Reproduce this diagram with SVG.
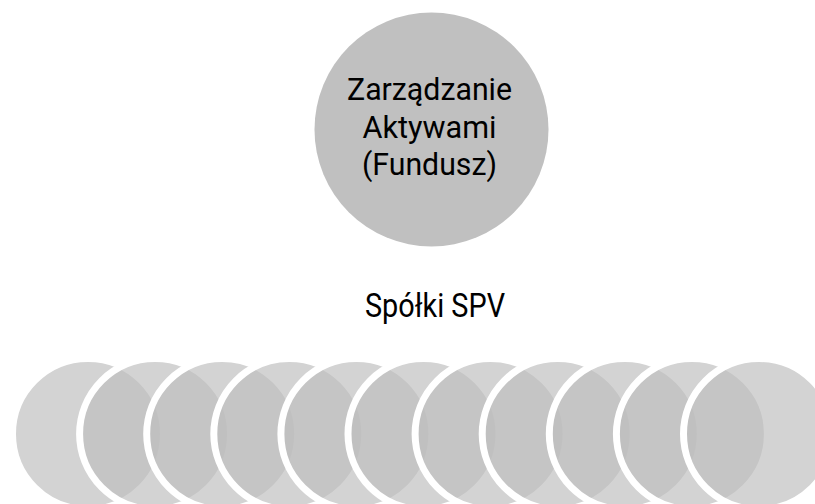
<svg xmlns="http://www.w3.org/2000/svg" width="815" height="504" viewBox="0 0 815 504">
  <style>
    .big { fill: #c0c0c0; }
    .spv { fill: #bebebe; fill-opacity: 0.68; stroke: #ffffff; stroke-width: 7; }
    .t { font-family: Roboto, "DejaVu Sans", sans-serif; font-weight: 400; fill: #000000; text-anchor: middle; }
  </style>
  <rect x="0" y="0" width="815" height="504" fill="#ffffff"/>
  <g id="connectors"/>
  <g id="node-fundusz">
    <circle class="big" cx="431.5" cy="129.5" r="117"/>
    <text class="t" font-size="32" x="429.5" y="100" textLength="165" lengthAdjust="spacingAndGlyphs">Zarządzanie</text>
    <text class="t" font-size="32" x="429.5" y="138" textLength="134" lengthAdjust="spacingAndGlyphs">Aktywami</text>
    <text class="t" font-size="32" x="429.5" y="175" textLength="135" lengthAdjust="spacingAndGlyphs">(Fundusz)</text>
  </g>
  <g id="label-spv">
    <text class="t" font-size="33" x="435" y="317" textLength="140" lengthAdjust="spacingAndGlyphs">Spółki SPV</text>
  </g>
  <g id="node-spv-1"><circle class="spv" cx="88" cy="434" r="75.5"/></g>
  <g id="node-spv-2"><circle class="spv" cx="155.1" cy="434" r="75.5"/></g>
  <g id="node-spv-3"><circle class="spv" cx="222.2" cy="434" r="75.5"/></g>
  <g id="node-spv-4"><circle class="spv" cx="289.3" cy="434" r="75.5"/></g>
  <g id="node-spv-5"><circle class="spv" cx="356.4" cy="434" r="75.5"/></g>
  <g id="node-spv-6"><circle class="spv" cx="423.5" cy="434" r="75.5"/></g>
  <g id="node-spv-7"><circle class="spv" cx="490.6" cy="434" r="75.5"/></g>
  <g id="node-spv-8"><circle class="spv" cx="557.7" cy="434" r="75.5"/></g>
  <g id="node-spv-9"><circle class="spv" cx="624.8" cy="434" r="75.5"/></g>
  <g id="node-spv-10"><circle class="spv" cx="691.9" cy="434" r="75.5"/></g>
  <g id="node-spv-11"><circle class="spv" cx="759" cy="434" r="75.5"/></g>
</svg>
